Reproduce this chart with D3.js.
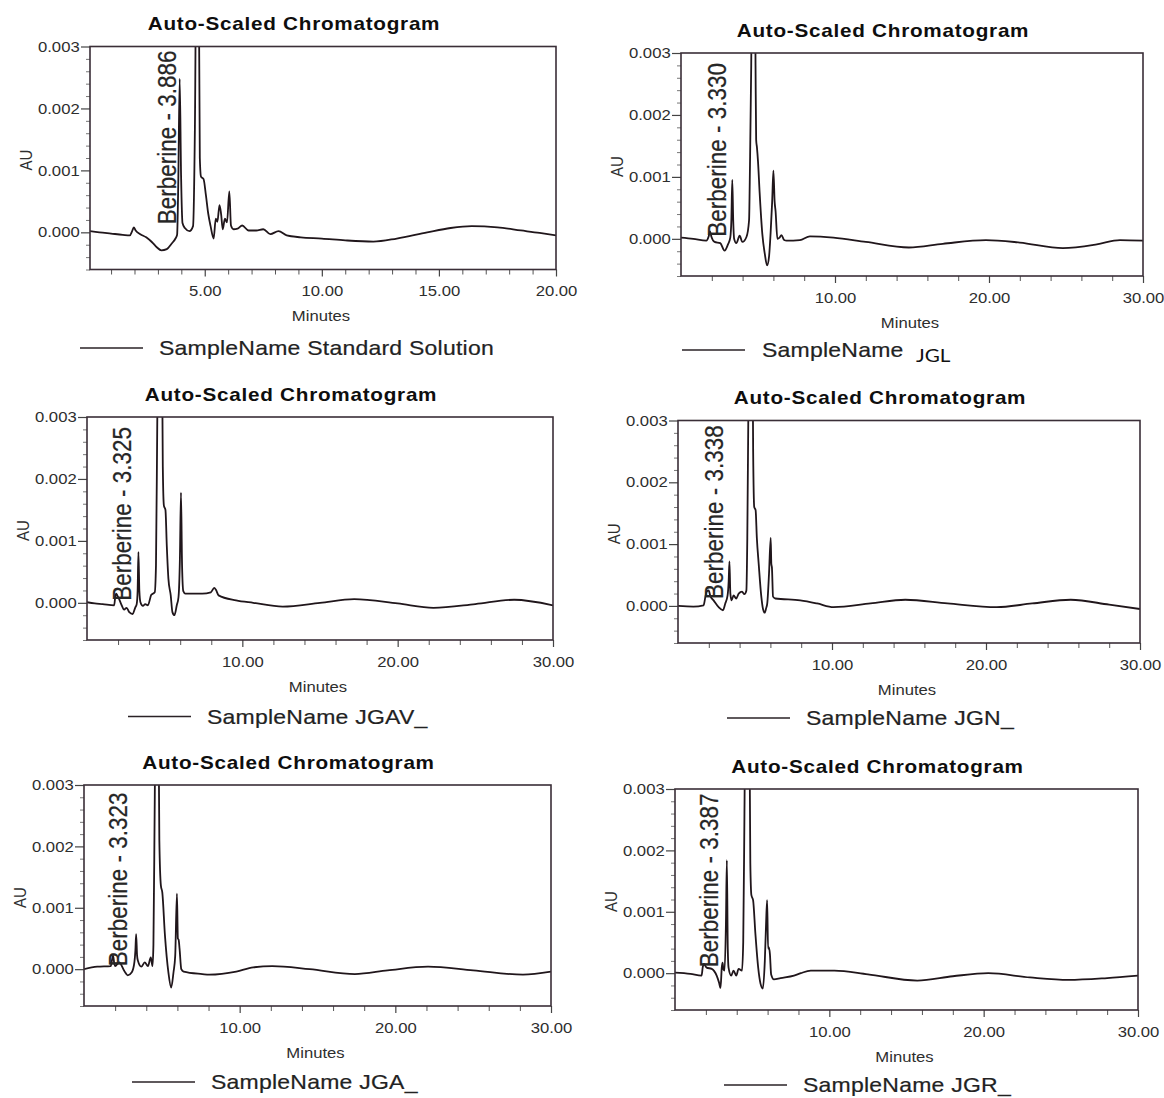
<!DOCTYPE html>
<html>
<head>
<meta charset="utf-8">
<script src="https://cdn.jsdelivr.net/npm/d3@7/dist/d3.min.js"></script>
<style>
  html, body { margin: 0; padding: 0; background: #ffffff; }
  svg { display: block; }
</style>
</head>
<body>
<svg id="chart" width="1164" height="1098"></svg>
<script>
// ---------------- DATA ----------------
const chartTitle = "Auto-Scaled Chromatogram";
const sampleNames = ["Standard Solution", "JGL", "JGAV_", "JGN_", "JGA_", "JGR_"];
const peakName = "Berberine";
const berberineRT = [3.886, 3.330, 3.325, 3.338, 3.323, 3.387];
const runLength = [20, 30, 30, 30, 30, 30];
const xMajor20 = [5, 10, 15, 20];
const xMajor30 = [10, 20, 30];
const yMajor = [0.000, 0.001, 0.002, 0.003];
const yDomain = [-0.0006, 0.003];

// [minutes, AU]
const seriesStandard = [
  [0.1,0.00002],[0.5,0.0],[1.0,-0.00002],[1.5,-0.00004],[1.8,-0.00005],[1.9,0.00002],[1.97,0.00008],
  [2.05,0.00003],[2.25,-0.00003],[2.5,-0.00008],[2.75,-0.00016],[2.95,-0.00024],[3.15,-0.00029],
  [3.38,-0.00027],[3.59,-0.00018],[3.75,-0.0001],[3.82,-0.00004],[3.87,0.0008],[3.93,0.00248],
  [3.99,0.0009],[4.05,0.00015],[4.15,0.00007],[4.35,0.00002],[4.5,0.0001],[4.58,0.0017],[4.66,0.0055],
  [4.72,0.0055],[4.79,0.0012],[4.84,0.0009],[4.95,0.00086],[5.05,0.0006],[5.15,0.0003],[5.25,0.0001],
  [5.38,-0.0001],[5.47,0.00022],[5.54,0.00017],[5.63,0.00044],[5.70,0.00029],[5.77,0.00005],
  [5.86,0.00022],[5.95,0.00016],[6.05,0.00066],[6.12,0.00011],[6.23,0.00005],[6.4,0.00006],
  [6.6,0.00011],[6.87,0.00003],[7.2,0.00003],[7.5,0.00005],[7.8,-0.00003],[8.15,0.00002],
  [8.5,-0.00005],[9.1,-0.00008],[10,-0.0001],[11,-0.00013],[12.2,-0.00015],[13.2,-0.0001],
  [14.5,0.0],[15.5,0.00007],[16.4,0.0001],[17.5,0.00008],[18.5,0.00003],[19.3,-0.00001],[20,-0.00005]
];
const seriesJGL = [
  [0,0.00002],[0.8,0.0],[1.64,-0.00003],[1.8,0.00004],[1.88,0.00012],[1.98,0.00003],[2.18,-0.00005],
  [2.55,-0.00007],[2.83,-0.00019],[3.05,-0.00009],[3.2,0.00002],[3.27,0.0003],[3.33,0.00095],
  [3.39,0.0003],[3.45,0.0],[3.59,-0.00007],[3.81,0.00005],[3.98,-0.00005],[4.25,0.00003],[4.42,0.0003],
  [4.48,0.0012],[4.56,0.0028],[4.64,0.0055],[4.76,0.0055],[4.84,0.0028],[4.88,0.0016],[4.93,0.00148],
  [5.0,0.00125],[5.11,0.00073],[5.28,0.00008],[5.44,-0.00024],[5.59,-0.00043],[5.72,-0.00028],
  [5.82,0.0001],[5.92,0.0006],[6.0,0.0011],[6.08,0.0006],[6.14,0.00045],[6.26,0.0],[6.4,0.00002],
  [6.52,0.00006],[6.7,-0.00002],[6.85,-0.00003],[7.72,-0.00002],[8.37,0.00004],[9.9,0.00002],
  [12,-0.00005],[14.8,-0.00014],[17,-0.00008],[19.8,-0.00002],[22,-0.00006],[24.8,-0.00015],
  [27,-0.00009],[28.5,-0.00002],[30,-0.00003]
];
const seriesJGAV = [
  [0,0.00001],[0.5,-0.00001],[1.0,-0.00002],[1.75,-0.00004],[1.82,0.0001],[1.88,0.00015],[1.95,0.00012],
  [2.07,0.00006],[2.2,-0.00002],[2.39,-0.00011],[2.55,-0.00008],[2.72,-0.00015],[2.94,-0.00018],
  [3.1,-0.00008],[3.2,-0.00002],[3.26,0.0002],[3.31,0.00082],[3.37,0.0002],[3.44,0.00001],
  [3.6,-0.00005],[3.75,-0.00002],[3.92,-0.00004],[4.14,0.00013],[4.36,0.00017],[4.44,0.0006],
  [4.52,0.0028],[4.62,0.0055],[4.78,0.0055],[4.88,0.0022],[4.95,0.00157],[5.05,0.0015],[5.14,0.0009],
  [5.24,0.00039],[5.39,0.00012],[5.5,-0.00015],[5.63,-0.0002],[5.78,-0.00004],[5.89,0.00009],
  [5.98,0.0007],[6.05,0.00178],[6.12,0.0006],[6.2,0.00019],[6.33,0.00015],[7.42,0.00015],
  [7.97,0.00017],[8.19,0.00024],[8.3,0.00021],[8.47,0.00012],[9.6,0.00004],[10.7,0.0],
  [12.6,-0.00006],[15,0.0],[17.2,0.00006],[20,-0.00001],[22.3,-0.00008],[25,-0.00002],
  [27.5,0.00005],[30,-0.00004]
];
const seriesJGN = [
  [0,0.0],[1.0,-0.00001],[1.66,0.00001],[1.78,0.00015],[1.86,0.00023],[1.99,0.00025],[2.1,0.00016],
  [2.31,0.00009],[2.64,-0.00002],[2.92,-0.00007],[3.07,0.00004],[3.22,0.00017],[3.29,0.0004],
  [3.34,0.00072],[3.4,0.0002],[3.48,0.00009],[3.61,0.00017],[3.78,0.00012],[3.94,0.0002],
  [4.16,0.00023],[4.31,0.00019],[4.44,0.00025],[4.5,0.0011],[4.58,0.0035],[4.68,0.0055],[4.8,0.0055],
  [4.88,0.0025],[4.95,0.0016],[5.04,0.00155],[5.12,0.0011],[5.24,0.00068],[5.41,0.00015],
  [5.52,-0.00005],[5.63,-0.00011],[5.72,-0.00004],[5.8,0.00005],[5.91,0.00052],[6.02,0.0011],
  [6.06,0.00068],[6.1,0.00062],[6.17,0.00015],[6.32,0.00012],[7.94,0.00009],[9.03,0.00004],
  [10.1,-0.00002],[12.5,0.00004],[14.76,0.0001],[17.5,0.00004],[20.7,-0.00002],[23,0.00004],
  [25.5,0.0001],[28,0.00002],[30,-0.00005]
];
const seriesJGA = [
  [0,0.0],[0.85,0.00004],[1.72,0.00005],[1.8,0.00015],[1.87,0.00022],[1.94,0.0001],[2.0,0.00005],
  [2.26,0.00011],[2.59,-0.00003],[2.81,-0.0001],[3.07,-0.00005],[3.24,0.00012],[3.3,0.0003],
  [3.35,0.00057],[3.41,0.00022],[3.46,0.00014],[3.68,0.00004],[3.9,0.00011],[4.11,0.00005],
  [4.29,0.00019],[4.4,0.00005],[4.46,0.0004],[4.54,0.0026],[4.64,0.0055],[4.74,0.0055],[4.84,0.0021],
  [4.94,0.00136],[5.03,0.00125],[5.2,0.00055],[5.42,-0.00005],[5.6,-0.0003],[5.75,-0.00005],
  [5.86,0.00022],[5.97,0.00123],[6.03,0.0005],[6.08,0.00048],[6.14,0.00033],[6.25,0.0],
  [6.4,-0.00004],[7.6,-0.00008],[8.04,-0.00009],[9.78,-0.00004],[10.87,0.00003],[12.1,0.00005],
  [14.5,0.0],[17.4,-0.00008],[19.5,-0.00002],[22.1,0.00004],[25,-0.00002],[28.2,-0.00009],[30,-0.00004]
];
const seriesJGR = [
  [0,0.00001],[1.0,-0.00001],[1.72,-0.00004],[1.8,0.0001],[1.87,0.00015],[2.05,0.00009],[2.38,0.00007],
  [2.7,-0.00004],[2.85,-0.00015],[2.95,-0.00024],[3.03,0.00009],[3.08,0.00017],[3.14,0.00006],
  [3.21,0.00004],[3.3,0.0008],[3.36,0.00184],[3.42,0.0004],[3.47,0.00009],[3.64,-0.00004],
  [3.79,0.00004],[3.97,-0.00004],[4.12,0.00007],[4.34,0.00004],[4.42,0.0005],[4.5,0.0026],
  [4.6,0.0055],[4.78,0.0055],[4.88,0.0018],[4.95,0.00127],[5.06,0.00119],[5.21,0.00064],
  [5.39,0.00009],[5.54,-0.00017],[5.69,-0.00025],[5.82,0.0002],[5.9,0.0008],[5.97,0.00119],
  [6.03,0.0004],[6.09,0.00042],[6.15,0.00031],[6.23,-0.00002],[6.41,-0.0001],[6.84,-0.00008],
  [7.71,-0.00004],[8.15,0.0],[8.8,0.00004],[10.33,0.00004],[12.5,-0.00002],[15.7,-0.00012],
  [18,-0.00005],[20.3,0.0],[23,-0.00007],[25.5,-0.00011],[28,-0.00008],[30,-0.00004]
];
const allSeries = [seriesStandard, seriesJGL, seriesJGAV, seriesJGN, seriesJGA, seriesJGR];

// ---------------- LAYOUT (pixels) ----------------
const layout = [
  {x0: 90,  x1: 556,  y0: 46.5, y1: 269.5, xStart: 0.1, legX: 80,  legY: 348,  labDx: -3, labDy: -8},
  {x0: 681, x1: 1143, y0: 53,   y1: 276,   xStart: 0,   legX: 682, legY: 350,  labDx: -6, labDy: -2},
  {x0: 87,  x1: 553,  y0: 417,  y1: 640,   xStart: 0,   legX: 128, legY: 716.5,labDx: -8, labDy: -2},
  {x0: 678, x1: 1140, y0: 420.5,y1: 643,   xStart: 0,   legX: 727, legY: 718,  labDx: -6, labDy: -7},
  {x0: 84,  x1: 551,  y0: 785,  y1: 1006,  xStart: 0,   legX: 132, legY: 1082, labDx: -9, labDy: -3},
  {x0: 675, x1: 1138, y0: 789,  y1: 1010,  xStart: 0,   legX: 724, legY: 1085, labDx: -9, labDy: -6}
];

const SX = 1.15; // horizontal stretch of the scanned print
const FONT = "'Liberation Sans', Arial, Helvetica, sans-serif";
const LINE_COLOR = "#20161b";
const BOX_COLOR = "#3a2e37";

const svg = d3.select("#chart");
svg.append("rect").attr("width", 1164).attr("height", 1098).attr("fill", "#ffffff");

function stext(parent, x, y, str, o) {
  const g = parent.append("g")
    .attr("transform", `translate(${x},${y}) scale(${SX},1)` + (o.rotate ? " rotate(-90)" : ""));
  const t = g.append("text")
    .attr("x", 0).attr("y", 0)
    .attr("font-family", o.family || FONT)
    .attr("font-size", o.size)
    .attr("font-weight", o.weight || "normal")
    .attr("fill", o.fill || "#222")
    .attr("text-anchor", o.anchor || "start")
    .attr("letter-spacing", o.ls || 0)
    .text(str);
  if (o.stroke) t.attr("stroke", o.fill || "#222").attr("stroke-width", o.stroke);
  return t;
}

layout.forEach((L, i) => {
  const data = allSeries[i];
  const g = svg.append("g");
  const x = d3.scaleLinear().domain([L.xStart, runLength[i]]).range([L.x0, L.x1]);
  const y = d3.scaleLinear().domain(yDomain).range([L.y1, L.y0]);

  // clip
  const cid = "clip" + i;
  svg.append("defs").append("clipPath").attr("id", cid)
    .append("rect").attr("x", L.x0).attr("y", L.y0).attr("width", L.x1 - L.x0).attr("height", L.y1 - L.y0);

  // title
  stext(g, (L.x0 + L.x1) / 2 - 29, L.y0 - 16.5, chartTitle,
        {size: 18, weight: "bold", anchor: "middle", fill: "#0e0e0e", ls: 0.65});

  // y axis ticks
  const yMinor = d3.range(-6, 31, 2).map(k => +(k * 1e-4).toFixed(4)).filter(v => !yMajor.some(m => Math.abs(m - v) < 1e-9));
  const yMin = g.append("g").attr("transform", `translate(${L.x0},0)`)
    .call(d3.axisLeft(y).tickValues(yMinor).tickSize(4).tickFormat(""));
  yMin.select(".domain").remove();
  yMin.selectAll("line").attr("stroke", "#777").attr("stroke-width", 1);

  const yAx = g.append("g").attr("transform", `translate(${L.x0},0)`)
    .call(d3.axisLeft(y).tickValues(yMajor).tickSize(9).tickPadding(0).tickFormat(d3.format(".3f")));
  yAx.select(".domain").remove();
  yAx.selectAll("line").attr("stroke", "#444").attr("stroke-width", 1.2);
  yAx.selectAll("text")
    .attr("font-family", FONT).attr("font-size", 14.5).attr("fill", "#2e2e2e")
    .attr("transform", `scale(${SX},1)`);

  // x axis ticks
  const xMajor = runLength[i] === 20 ? xMajor20 : xMajor30;
  const step = runLength[i] === 20 ? 1 : 2;
  const xMinor = d3.range(step, runLength[i] + 0.01, step).filter(v => !xMajor.includes(v));
  const xMin = g.append("g").attr("transform", `translate(0,${L.y1})`)
    .call(d3.axisBottom(x).tickValues(xMinor).tickSize(5).tickFormat(""));
  xMin.select(".domain").remove();
  xMin.selectAll("line").attr("stroke", "#555").attr("stroke-width", 1);

  const xAx = g.append("g").attr("transform", `translate(0,${L.y1})`)
    .call(d3.axisBottom(x).tickValues(xMajor).tickSize(7).tickPadding(0).tickFormat(d3.format(".2f")));
  xAx.select(".domain").remove();
  xAx.selectAll("line").attr("stroke", "#444").attr("stroke-width", 1.2);
  xAx.selectAll("text")
    .attr("font-family", FONT).attr("font-size", 14.5).attr("fill", "#2e2e2e")
    .attr("y", 27).attr("dy", 0)
    .attr("transform", `scale(${SX},1)`);

  // axis titles
  stext(g, (L.x0 + L.x1) / 2 - 2, L.y1 + 51.5, "Minutes", {size: 14.5, anchor: "middle", fill: "#2e2e2e"});
  stext(g, L.x0 - 58, (L.y0 + L.y1) / 2 + 2, "AU", {size: 15, anchor: "middle", fill: "#2e2e2e", rotate: true});

  // trace
  const line = d3.line().x(d => x(d[0])).y(d => y(d[1])).curve(d3.curveMonotoneX);
  g.append("path").datum(data)
    .attr("clip-path", `url(#${cid})`)
    .attr("d", line)
    .attr("fill", "none")
    .attr("stroke", LINE_COLOR)
    .attr("stroke-width", 1.8)
    .attr("stroke-linejoin", "round");

  // box
  g.append("rect")
    .attr("x", L.x0).attr("y", L.y0)
    .attr("width", L.x1 - L.x0).attr("height", L.y1 - L.y0)
    .attr("fill", "none").attr("stroke", BOX_COLOR).attr("stroke-width", 1.6);

  // peak label
  stext(g, x(berberineRT[i]) + L.labDx, y(0) + L.labDy,
        `${peakName} - ${berberineRT[i].toFixed(3)}`,
        {size: 22.5, anchor: "start", fill: "#262626", rotate: true, stroke: 0.2});

  // legend
  g.append("line")
    .attr("x1", L.legX).attr("x2", L.legX + 63)
    .attr("y1", L.legY).attr("y2", L.legY)
    .attr("stroke", "#2a2226").attr("stroke-width", 1.6);
  if (i === 1) {
    stext(g, L.legX + 80, L.legY + 7, "SampleName", {size: 20, fill: "#222", ls: 0.2, stroke: 0.2});
    stext(g, L.legX + 234, L.legY + 12, sampleNames[i], {size: 18, fill: "#111", family: "Lato, 'Open Sans', sans-serif"});
  } else {
    stext(g, L.legX + 79, L.legY + 7, "SampleName " + sampleNames[i], {size: 20, fill: "#222", ls: 0.2, stroke: 0.2});
  }
});
</script>
</body>
</html>
